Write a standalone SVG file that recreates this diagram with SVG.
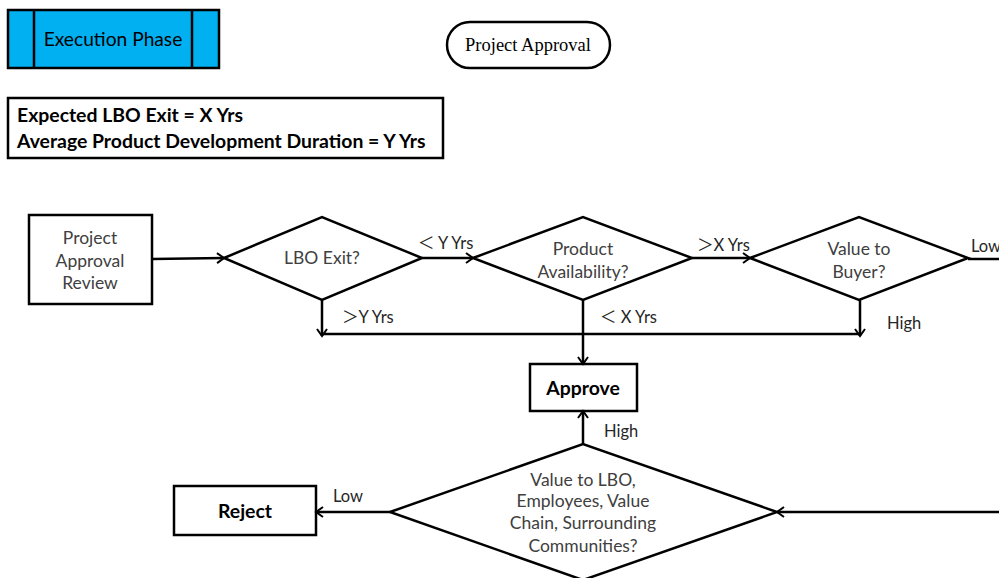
<svg xmlns="http://www.w3.org/2000/svg" width="999" height="578" viewBox="0 0 999 578">
<style>
.s{fill:#fff;stroke:#000;stroke-width:2.5}
.t{font-family:Lato,"Liberation Sans","Noto Sans CJK SC",sans-serif;font-size:17.5px;fill:#404040;text-anchor:middle}
.l{font-family:Lato,"Liberation Sans","Noto Sans CJK SC",sans-serif;font-size:16.5px;fill:#262626}
.b{font-family:Lato,"Liberation Sans",sans-serif;font-size:19.4px;font-weight:bold;fill:#000}
.c{fill:none;stroke:#000;stroke-width:2.5}
</style>
<defs>
<marker id="a" markerWidth="12" markerHeight="12" refX="10" refY="6" orient="auto" markerUnits="userSpaceOnUse">
<path d="M3,1 L10,6 L3,11" fill="none" stroke="#000" stroke-width="2"/>
</marker>
</defs>
<g id="exec">
<rect x="8" y="10" width="211" height="58" fill="#00B0F0" stroke="#000" stroke-width="2.5"/>
<line x1="34" y1="10" x2="34" y2="68" stroke="#000" stroke-width="2.5"/>
<line x1="192" y1="10" x2="192" y2="68" stroke="#000" stroke-width="2.5"/>
<text x="113" y="46" font-family="Lato,'Liberation Sans',sans-serif" font-size="19.2" text-anchor="middle" fill="#000">Execution Phase</text>
</g>
<g id="pa">
<rect x="447" y="22" width="163" height="46" rx="23" class="s"/>
<text x="528" y="51" font-family="'Liberation Serif',serif" font-size="18.5" text-anchor="middle" fill="#000">Project Approval</text>
</g>
<g id="info">
<rect x="8" y="98" width="435" height="60" class="s"/>
<text x="17" y="122" class="b">Expected LBO Exit = X Yrs</text>
<text x="17" y="148" class="b">Average Product Development Duration = Y Yrs</text>
</g>
<g id="review">
<rect x="29" y="215" width="123" height="89" class="s"/>
<text x="90" y="244" class="t">Project</text>
<text x="90" y="267" class="t">Approval</text>
<text x="90" y="289" class="t">Review</text>
</g>
<g id="lbo">
<polygon points="224,258 322,217 422,258 322,300" class="s"/>
<text x="322" y="264" class="t">LBO Exit?</text>
</g>
<g id="prod">
<polygon points="473,258 583,217 692,258 583,300" class="s"/>
<text x="583" y="255" class="t">Product</text>
<text x="583" y="278" class="t">Availability?</text>
</g>
<g id="buyer">
<polygon points="750,258 859,217 968,258 859,300" class="s"/>
<text x="859" y="255" class="t">Value to</text>
<text x="859" y="278" class="t">Buyer?</text>
</g>
<g id="approve">
<rect x="530" y="364" width="107" height="47" class="s"/>
<text x="583" y="395" class="b" font-size="20" text-anchor="middle">Approve</text>
</g>
<g id="value">
<polygon points="390,512 583,444 777,512 583,580" class="s"/>
<text x="583" y="486" class="t">Value to LBO,</text>
<text x="583" y="507" class="t">Employees, Value</text>
<text x="583" y="529" class="t">Chain, Surrounding</text>
<text x="583" y="552" class="t">Communities?</text>
</g>
<g id="reject">
<rect x="174" y="486" width="142" height="49" class="s"/>
<text x="245" y="518" class="b" font-size="20" text-anchor="middle">Reject</text>
</g>
<g id="connectors">
<line x1="152" y1="259" x2="224" y2="258" class="c" marker-end="url(#a)"/>
<line x1="422" y1="258" x2="473" y2="258" class="c" marker-end="url(#a)"/>
<line x1="692" y1="258" x2="750" y2="258" class="c" marker-end="url(#a)"/>
<line x1="968" y1="259" x2="999" y2="259" class="c"/>
<line x1="322" y1="300" x2="322" y2="336" class="c" marker-end="url(#a)"/>
<line x1="322" y1="334" x2="860" y2="334" class="c"/>
<line x1="860" y1="300" x2="860" y2="336" class="c" marker-end="url(#a)"/>
<line x1="583" y1="300" x2="583" y2="364" class="c" marker-end="url(#a)"/>
<line x1="583" y1="444" x2="583" y2="411" class="c" marker-end="url(#a)"/>
<line x1="390" y1="512" x2="316" y2="512" class="c" marker-end="url(#a)"/>
<line x1="999" y1="512" x2="777" y2="512" class="c" marker-end="url(#a)"/>
<text x="418" y="249" class="l">＜ Y Yrs</text>
<text x="697" y="251" class="l">＞X Yrs</text>
<text x="971" y="252" class="l">Low</text>
<text x="342" y="323" class="l">＞Y Yrs</text>
<text x="600" y="323" class="l">＜ X Yrs</text>
<text x="887" y="329" class="l">High</text>
<text x="604" y="437" class="l">High</text>
<text x="333" y="502" class="l">Low</text>
</g>
</svg>
